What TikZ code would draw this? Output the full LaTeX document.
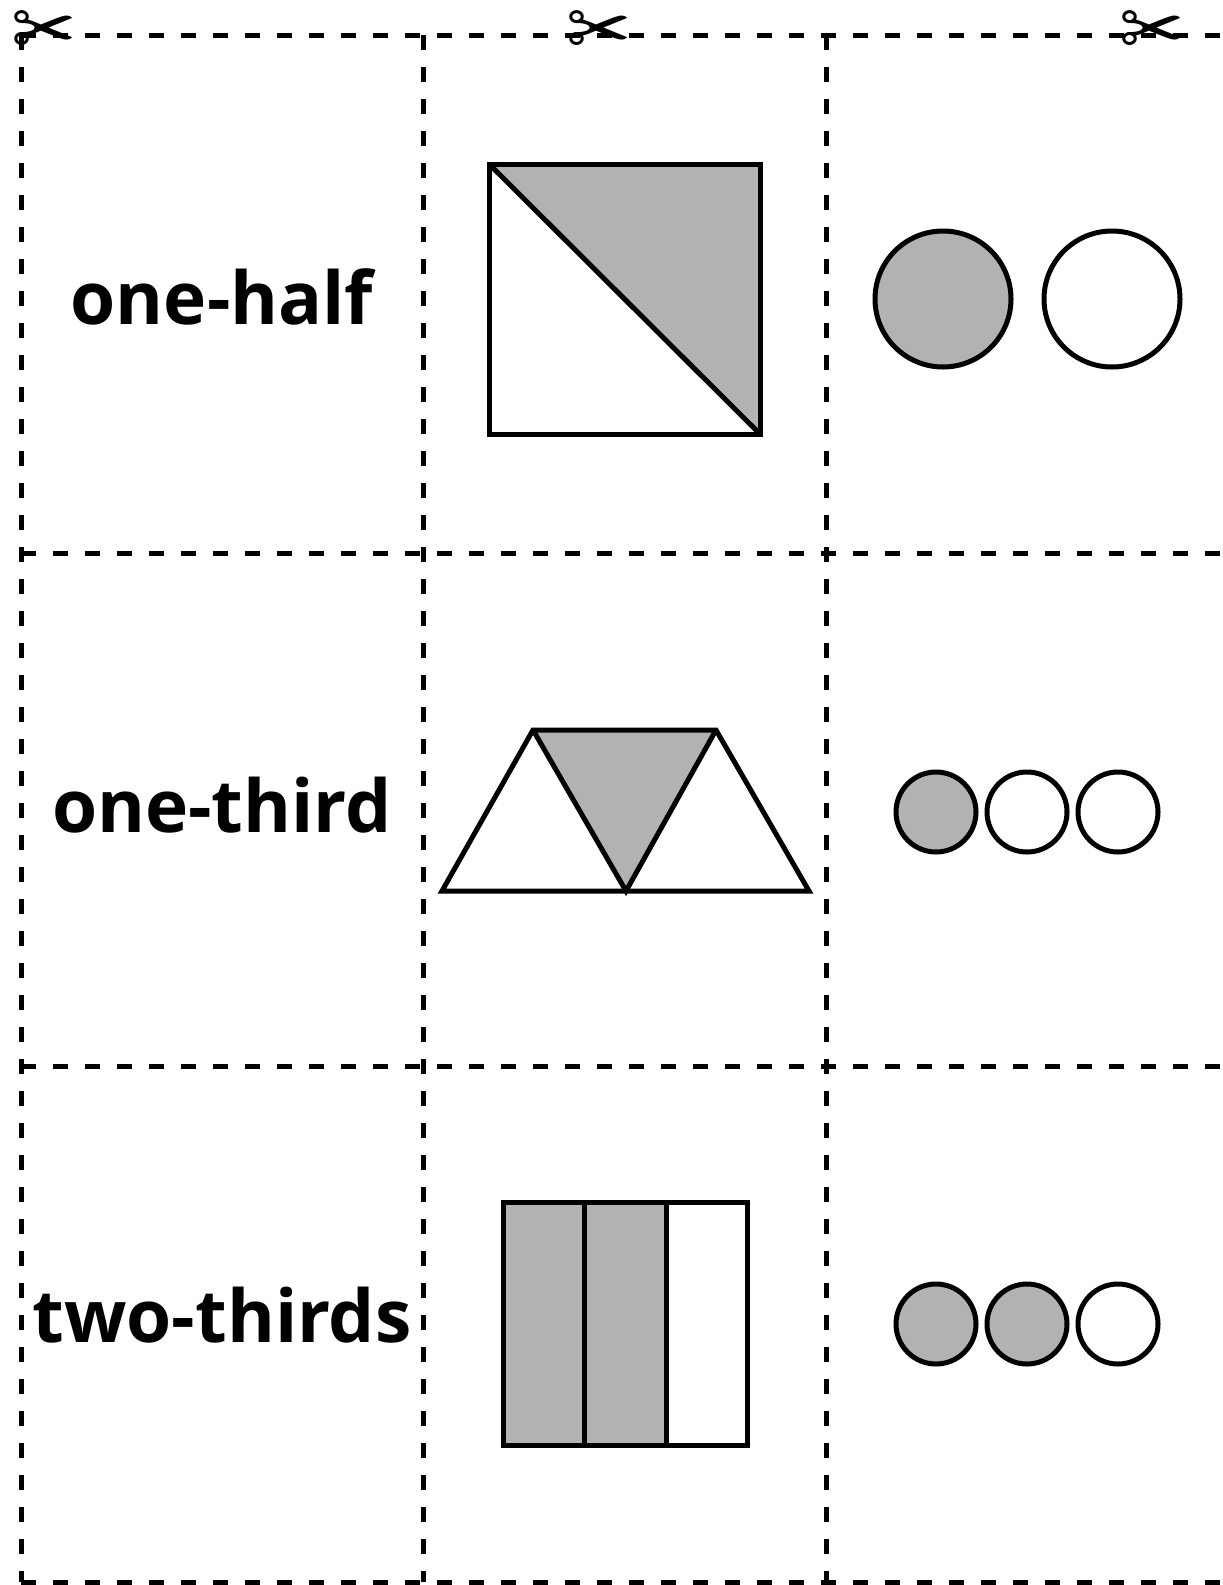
\documentclass[tikz,border=0pt]{standalone}
\usepackage{fontspec}
\setmainfont{Open Sans}
\newfontfamily\symfont{DejaVu Sans}
\definecolor{greyfill}{HTML}{B2B2B2}
\begin{document}
\begin{tikzpicture}[x=1pt,y=-1pt,
  cutline/.style={line width=5pt,dash pattern=on 15pt off 17pt},
  outl/.style={line width=5pt,line join=miter},
  word/.style={font=\fontsize{73}{80}\selectfont\bfseries,inner sep=0pt},
  snip/.style={font=\symfont\fontsize{78}{78}\selectfont,inner sep=0pt}]
\useasboundingbox (0,0) rectangle (1223,1585);
\fill[white] (0,0) rectangle (1223,1585);
% cut lines
\coordinate (h1a) at (21,35);   \coordinate (h1b) at (1223,35);
\coordinate (h2a) at (21,553);  \coordinate (h2b) at (1223,553);
\coordinate (h3a) at (21,1066); \coordinate (h3b) at (1223,1066);
\coordinate (h4a) at (21,1582); \coordinate (h4b) at (1223,1582);
\coordinate (v1a) at (21,35);   \coordinate (v1b) at (21,1582);
\coordinate (v2a) at (423,35);  \coordinate (v2b) at (423,1582);
\coordinate (v3a) at (826,35);  \coordinate (v3b) at (826,1582);
\foreach \a/\b in {h1a/h1b,h2a/h2b,h3a/h3b,h4a/h4b,v1a/v1b,v2a/v2b,v3a/v3b}
  \draw[cutline] (\a) -- (\b);
% scissors
\node[snip] (s1) at (44,34) {✂};
\node[snip] (s2) at (599,34) {✂};
\node[snip] (s3) at (1152,34) {✂};
% words
\node[word] (w1) at (222,297) {one-half};
\node[word] (w2) at (222,805) {one-third};
\node[word] (w3) at (222,1315) {two-thirds};
% square
\fill[greyfill] (489,164) -- (760,164) -- (760,434) -- cycle;
\draw[outl] (489,164) rectangle (760,434);
\draw[outl] (489,164) -- (760,434);
% circles row 1
\draw[outl,fill=greyfill] (943,299) circle (68);
\draw[outl] (1112,299) circle (68);
% trapezoid of triangles
\fill[greyfill] (533,730) -- (716,730) -- (626,891) -- cycle;
\draw[outl] (442,891) -- (533,730) -- (716,730) -- (809,891) -- cycle;
\draw[outl] (533,730) -- (626,891) -- (716,730);
% circles row 2
\draw[outl,fill=greyfill] (936,812) circle (40);
\draw[outl] (1027,812) circle (40);
\draw[outl] (1118,812) circle (40);
% rectangle in thirds
\fill[greyfill] (503,1202) rectangle (666,1445);
\draw[outl] (503,1202) rectangle (747,1445);
\draw[outl] (584,1202) -- (584,1445);
\draw[outl] (666,1202) -- (666,1445);
% circles row 3
\draw[outl,fill=greyfill] (936,1324) circle (40);
\draw[outl,fill=greyfill] (1027,1324) circle (40);
\draw[outl] (1118,1324) circle (40);
\end{tikzpicture}
\end{document}
